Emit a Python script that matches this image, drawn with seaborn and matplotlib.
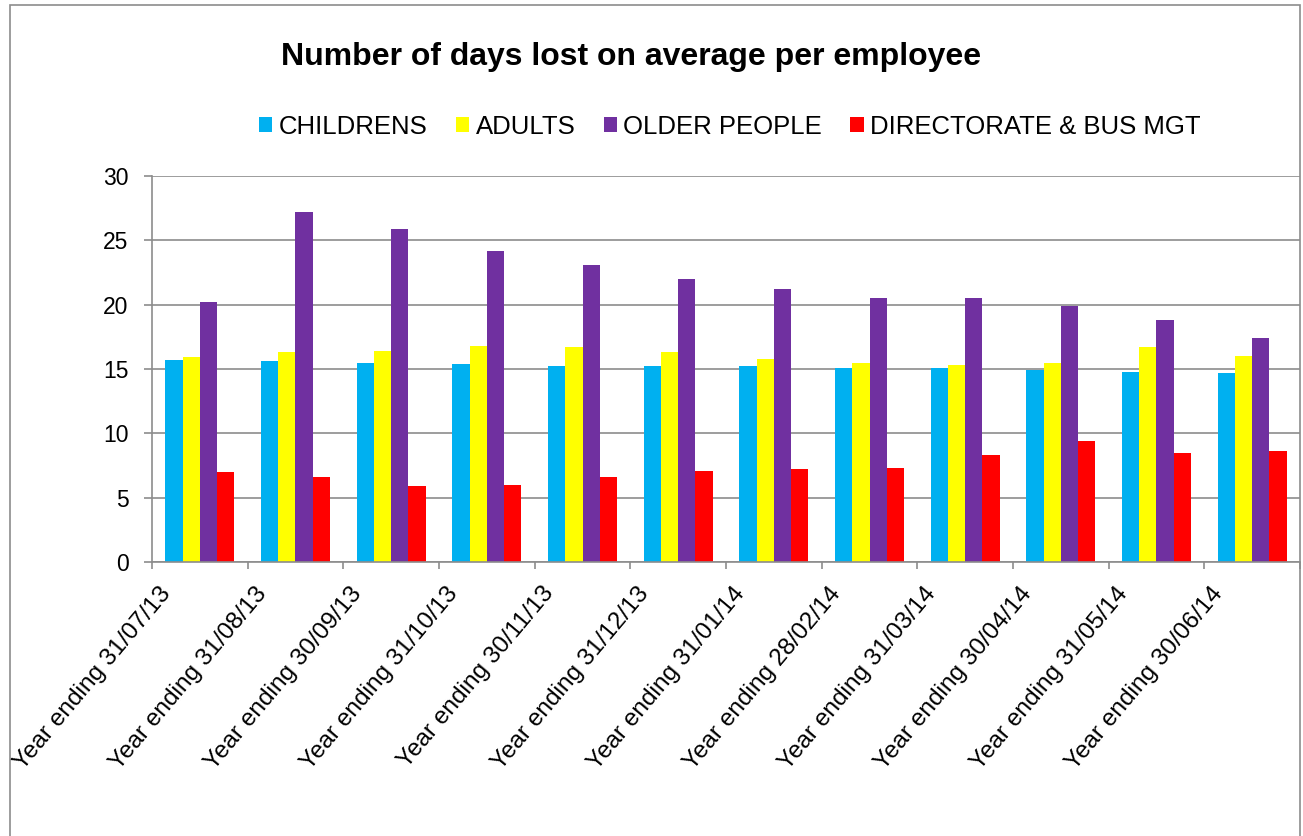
import matplotlib
matplotlib.use("Agg")
import matplotlib.pyplot as plt
import matplotlib.transforms as mtransforms
from matplotlib.patches import Rectangle
import seaborn as sns
import pandas as pd
import numpy as np

periods = ["Year ending 31/07/13", "Year ending 31/08/13", "Year ending 30/09/13",
           "Year ending 31/10/13", "Year ending 30/11/13", "Year ending 31/12/13",
           "Year ending 31/01/14", "Year ending 28/02/14", "Year ending 31/03/14",
           "Year ending 30/04/14", "Year ending 31/05/14", "Year ending 30/06/14"]
childrens = [15.7, 15.6, 15.5, 15.4, 15.2, 15.2, 15.2, 15.1, 15.1, 14.9, 14.8, 14.7]
adults = [15.9, 16.3, 16.4, 16.8, 16.7, 16.3, 15.8, 15.5, 15.3, 15.5, 16.7, 16.0]
older_people = [20.2, 27.2, 25.9, 24.2, 23.1, 22.0, 21.2, 20.5, 20.5, 19.9, 18.8, 17.4]
directorate = [7.0, 6.6, 5.9, 6.0, 6.6, 7.1, 7.2, 7.3, 8.3, 9.4, 8.5, 8.6]
series_names = ["CHILDRENS", "ADULTS", "OLDER PEOPLE", "DIRECTORATE & BUS MGT"]
colors = ["#00B0F0", "#FFFF00", "#7030A0", "#FF0000"]

df = pd.DataFrame({
    "period": periods * 4,
    "series": sum([[s] * len(periods) for s in series_names], []),
    "value": childrens + adults + older_people + directorate,
})

sns.set_theme(style="white")
plt.rcParams["font.family"] = ["Liberation Sans", "DejaVu Sans"]
plt.rcParams["text.color"] = "black"
plt.rcParams["xtick.color"] = "black"
plt.rcParams["ytick.color"] = "black"

W, H = 1303, 836
fig = plt.figure(figsize=(W / 100, H / 100), dpi=100)
ax = fig.add_axes([152 / W, 1 - 562 / H, (1300 - 152) / W, (562 - 176) / H])

sns.barplot(data=df, x="period", y="value", hue="series", order=periods,
            hue_order=series_names, palette=colors, width=0.72, gap=0,
            linewidth=0, saturation=1, ax=ax, errorbar=None)

grid_c = "#8c8c8c"
ax.set_ylim(0, 30)
ax.set_xlim(-0.5, len(periods) - 0.5)
ax.set_yticks([0, 5, 10, 15, 20, 25, 30])
ax.yaxis.grid(True, color=grid_c, linewidth=1.2)
ax.set_axisbelow(True)
ax.set_xlabel("")
ax.set_ylabel("")
for s in ["top", "right"]:
    ax.spines[s].set_visible(False)
for s in ["left", "bottom"]:
    ax.spines[s].set_color(grid_c)
    ax.spines[s].set_linewidth(1.2)

ax.tick_params(axis="y", which="major", left=True, length=6, width=1.2,
               color=grid_c, direction="out", pad=11, labelsize=16.5, labelcolor="black")
ax.set_xticks(np.arange(-0.5, len(periods), 1.0), minor=True)
ax.tick_params(axis="x", which="minor", bottom=True, length=5, width=1.2,
               color=grid_c, direction="out")
ax.tick_params(axis="x", which="major", bottom=False, length=0, pad=20,
               labelsize=17.6, labelcolor="black")
offset = mtransforms.ScaledTranslation(-0.33, 0, fig.dpi_scale_trans)
for lab in ax.get_xticklabels():
    lab.set_rotation(50)
    lab.set_ha("right")
    lab.set_va("center")
    lab.set_rotation_mode("anchor")
    lab.set_transform(lab.get_transform() + offset)

handles, labels = ax.get_legend_handles_labels()
if ax.get_legend() is not None:
    ax.get_legend().remove()
fig.legend(handles, labels, loc="center", bbox_to_anchor=(730 / W, 1 - 127 / H),
           ncol=4, frameon=False, fontsize=18.5, handlelength=0.52,
           handleheight=0.52, handletextpad=0.25, columnspacing=1.1,
           labelcolor="black")

fig.text(631 / W, 1 - 57 / H, "Number of days lost on average per employee",
         ha="center", va="center", fontsize=23, fontweight="bold", color="black")

fig.patches.append(Rectangle((10 / W, -0.02), (1300 - 10) / W, 1 - 5 / H + 0.02,
                             transform=fig.transFigure, fill=False,
                             edgecolor="#8c8c8c", linewidth=1.2))

fig.savefig("out.png", dpi=100)
